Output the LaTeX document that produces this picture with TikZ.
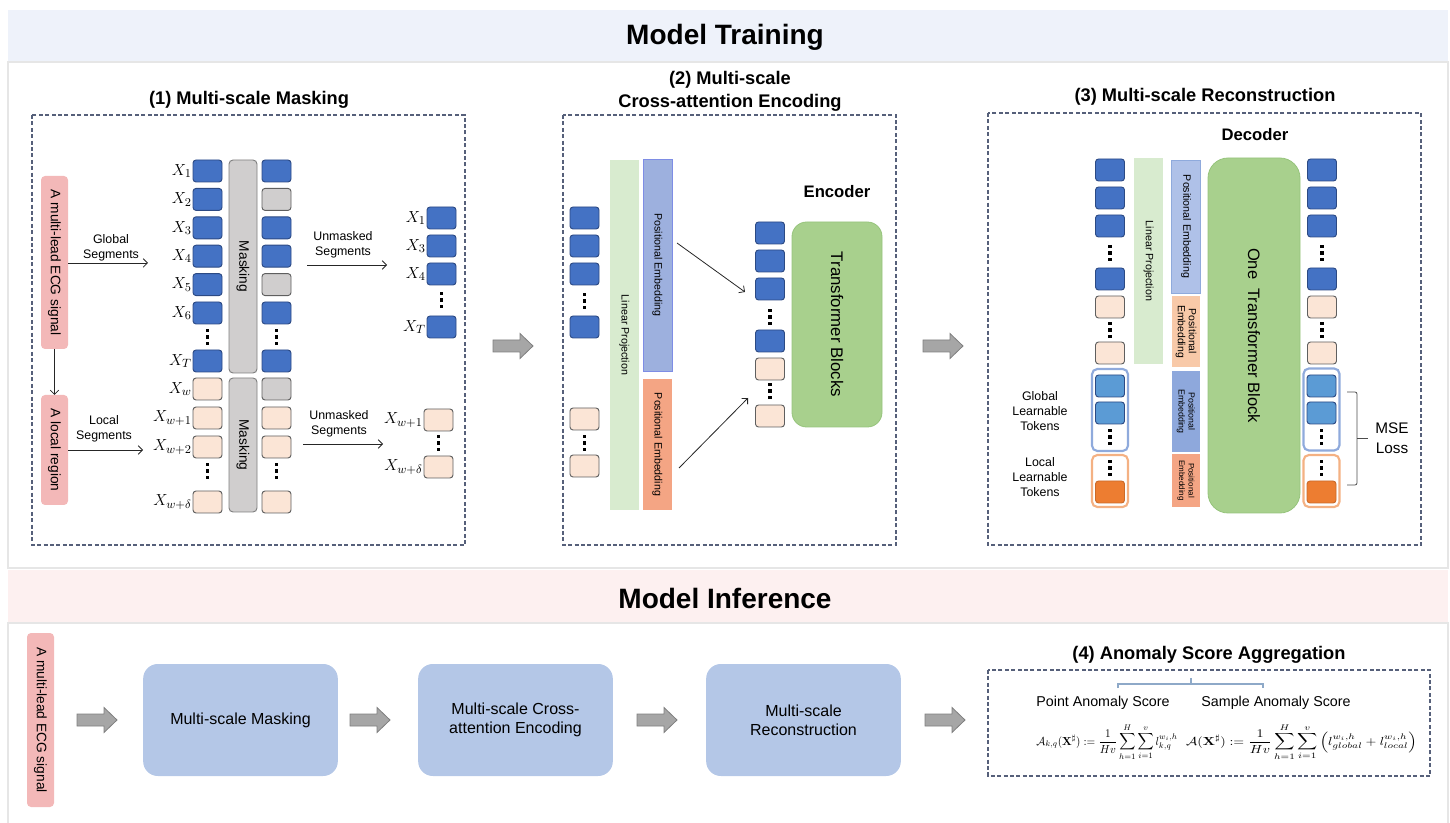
\documentclass[tikz,border=0pt]{standalone}
\usepackage[no-math]{fontspec}
\setmainfont{Liberation Sans}
\usepackage{amsmath,amssymb}
\usepackage{graphicx}
\usetikzlibrary{arrows.meta}
\definecolor{bandblue}{HTML}{EEF2FA}
\definecolor{bandpink}{HTML}{FDF0F0}
\definecolor{framec}{HTML}{E6E6E6}
\definecolor{pinkc}{HTML}{F3B8B8}
\definecolor{tokblue}{HTML}{4472C4}
\definecolor{tokblueline}{HTML}{2C4A84}
\definecolor{peach}{HTML}{FBE5D6}
\definecolor{tokline}{HTML}{5F5F5F}
\definecolor{graytok}{HTML}{D0CECE}
\definecolor{maskline}{HTML}{7F7F7F}
\definecolor{lingreen}{HTML}{D8EBCF}
\definecolor{peblue}{HTML}{9DB0DE}
\definecolor{peblueL}{HTML}{AFC1E8}
\definecolor{peblueM}{HTML}{8EA8DC}
\definecolor{peorange}{HTML}{F4A584}
\definecolor{peorangeL}{HTML}{F8C9A8}
\definecolor{trgreen}{HTML}{A8D08D}
\definecolor{trline}{HTML}{96C47C}
\definecolor{lblue}{HTML}{5B9BD5}
\definecolor{frameblue}{HTML}{8FAADC}
\definecolor{frameorange}{HTML}{F4B183}
\definecolor{orangetok}{HTML}{ED7D31}
\definecolor{boxblue}{HTML}{B4C7E7}
\definecolor{arrgray}{HTML}{A6A6A6}
\definecolor{arrline}{HTML}{7F7F7F}
\definecolor{dashc}{HTML}{56607A}
\definecolor{bracec}{HTML}{8EA9C8}
\newcommand{\fsz}[2]{\fontsize{#1}{#2}\selectfont}
\newcommand{\vd}[2]{\begin{scope}[shift={(#1,#2)}]\foreach \q in {-6.5,0,6.5}{\fill (-1.8,\q-1.8) rectangle (1.8,\q+1.8);}\end{scope}}
\tikzset{
  every node/.style={inner sep=0pt, outer sep=0pt},
  tok/.style={rectangle, rounded corners=2.3pt, minimum width=21.75pt, minimum height=16.5pt, line width=0.7pt},
  tokB/.style={tok, fill=tokblue, draw=tokblueline},
  tokP/.style={tok, fill=peach, draw=tokline},
  tokG/.style={tok, fill=graytok, draw=tokline},
  tokL/.style={tok, fill=lblue, draw=tokblueline},
  tokO/.style={tok, fill=orangetok, draw=orangetok!85!black},
  xl/.style={anchor=east, xshift=-1pt, font=\fsz{12.5}{14}},
  vbar/.style={rectangle, rotate=-90},
  pinkbox/.style={vbar, fill=pinkc, rounded corners=3pt, minimum height=20.25pt, font=\fsz{10.3}{12}},
  maskbar/.style={vbar, fill=graytok, draw=maskline, line width=0.7pt, rounded corners=3pt, minimum height=21pt, font=\fsz{10.3}{12}},
  linbar/.style={vbar, fill=lingreen, minimum height=21.75pt, font=\fsz{8}{9.5}},
  pebar/.style={vbar, minimum height=21.5pt, align=center, font=\fsz{8}{8.2}},
  lab/.style={align=center, font=\fsz{9.3}{11.25}},
  ptitle/.style={align=center, font=\bfseries\fsz{13.7}{17.25}},
  btitle/.style={font=\bfseries\fsz{21}{25}},
  sublab/.style={font=\bfseries\fsz{12.5}{15}},
  arr/.style={draw=black!85, line width=0.6pt, -{Straight Barb[length=3.2pt,width=6.4pt]}},
  dbox/.style={draw=dashc, line width=0.8pt, dash pattern=on 3pt off 1.8pt},
  frameB/.style={rectangle, rounded corners=4pt, draw=frameblue, line width=1.6pt, minimum width=27pt, fill=white},
  frameO/.style={rectangle, rounded corners=4pt, draw=frameorange, line width=1.6pt, minimum width=27pt, fill=white},
  trbox/.style={vbar, fill=trgreen, draw=trline, line width=0.6pt, rounded corners=11pt, font=\fsz{12.2}{14}},
  flowbox/.style={rectangle, rounded corners=11pt, fill=boxblue, minimum width=146pt, minimum height=84pt, align=center, font=\fsz{12}{14.25}},
  bigarr/.pic={\draw[fill=arrgray, draw=arrline, line width=0.6pt] (0,-6) -- (27,-6) -- (27,-12.5) -- (40,0) -- (27,12.5) -- (27,6) -- (0,6) -- cycle;}
}
\begin{document}
\begin{tikzpicture}[x=0.75pt,y=-0.75pt]
\useasboundingbox (0,0) rectangle (1450,823);
% ---------- backgrounds ----------
\fill[bandblue] (8,10) rectangle (1448,62);
\draw[framec, line width=0.8pt] (8,62) rectangle (1448,568);
\fill[bandpink] (8,570) rectangle (1448,623);
\draw[framec, line width=0.8pt] (8,823) -- (8,623) -- (1448,623) -- (1448,823);
\node[btitle] (ttrain) at (725,37) {Model Training};
\node[btitle] (tinfer) at (725,598) {Model Inference};

% ---------- panel 1 ----------
\node[ptitle] (t1) at (249,100) {(1) Multi-scale Masking};
\draw[dbox] (32,115) rectangle (465,545);
\node[pinkbox, minimum width=129.75pt] (ecg) at (54.5,262.5) {A multi-lead ECG signal};
\node[pinkbox, minimum width=82.5pt] (loc) at (54.5,450) {A local region};
\draw[arr] (ecg) -- (loc);
\coordinate (gse) at (148,263);
\draw[arr] (gse -| ecg.north) -- (gse);
\node[lab] (glab) at (111,247.5) {Global\\Segments};
\coordinate (lse) at (143,450);
\draw[arr] (lse -| loc.north) -- (lse);
\node[lab] (llab) at (104,428.5) {Local\\Segments};

\node[maskbar, minimum width=159.75pt] (mk1) at (243,266.5) {Masking};
\node[maskbar, minimum width=100.5pt] (mk2) at (243,445) {Masking};

% column 1
\node[tokB] (a1) at (207.5,171) {};   \node[xl] (la1) at (a1.west) {$X_1$};
\node[tokB] (a2) at (207.5,199.4) {}; \node[xl] (la2) at (a2.west) {$X_2$};
\node[tokB] (a3) at (207.5,227.8) {}; \node[xl] (la3) at (a3.west) {$X_3$};
\node[tokB] (a4) at (207.5,256.2) {}; \node[xl] (la4) at (a4.west) {$X_4$};
\node[tokB] (a5) at (207.5,284.6) {}; \node[xl] (la5) at (a5.west) {$X_5$};
\node[tokB] (a6) at (207.5,313) {};   \node[xl] (la6) at (a6.west) {$X_6$};
\vd{207.5}{337}
\node[tokB] (aT) at (207.5,361) {};   \node[xl] (laT) at (aT.west) {$X_T$};
\node[tokP] (p0) at (207.5,389) {};   \node[xl] (lp0) at (p0.west) {$X_w$};
\node[tokP] (p1) at (207.5,418) {};   \node[xl] (lp1) at (p1.west) {$X_{w+1}$};
\node[tokP] (p2) at (207.5,447) {};   \node[xl] (lp2) at (p2.west) {$X_{w+2}$};
\vd{207.5}{471}
\node[tokP] (pd) at (207.5,502) {};   \node[xl] (lpd) at (pd.west) {$X_{w+\delta}$};

% column 2
\node[tokB] (b1) at (276.5,171) {};
\node[tokG] (b2) at (276.5,199.4) {};
\node[tokB] (b3) at (276.5,227.8) {};
\node[tokB] (b4) at (276.5,256.2) {};
\node[tokG] (b5) at (276.5,284.6) {};
\node[tokB] (b6) at (276.5,313) {};
\vd{276.5}{337}
\node[tokB] (bT) at (276.5,361) {};
\node[tokG] (q0) at (276.5,389) {};
\node[tokP] (q1) at (276.5,418) {};
\node[tokP] (q2) at (276.5,447) {};
\vd{276.5}{471}
\node[tokP] (qd) at (276.5,502) {};

% unmasked
\coordinate (u1s) at (307,265); \coordinate (u1e) at (387,265);
\draw[arr] (u1s) -- (u1e);
\node[lab] (u1l) at (343,244.5) {Unmasked\\Segments};
\coordinate (u2s) at (303,444); \coordinate (u2e) at (383,444);
\draw[arr] (u2s) -- (u2e);
\node[lab] (u2l) at (339,424) {Unmasked\\Segments};

\node[tokB] (c1) at (441.5,218) {}; \node[xl] (lc1) at (c1.west) {$X_1$};
\node[tokB] (c3) at (441.5,246) {}; \node[xl] (lc3) at (c3.west) {$X_3$};
\node[tokB] (c4) at (441.5,274) {}; \node[xl] (lc4) at (c4.west) {$X_4$};
\vd{441.5}{300}
\node[tokB] (cT) at (441.5,327) {}; \node[xl] (lcT) at (cT.west) {$X_T$};
\node[tokP] (r1) at (438.5,420) {}; \node[xl] (lr1) at (r1.west) {$X_{w+1}$};
\vd{438.5}{443}
\node[tokP] (rd) at (438.5,467) {}; \node[xl] (lrd) at (rd.west) {$X_{w+\delta}$};

% big arrows
\pic at (493,346) {bigarr};
\pic at (923,346) {bigarr};

% ---------- panel 2 ----------
\node[ptitle] (t2) at (730,91.5) {(2) Multi-scale\\Cross-attention Encoding};
\draw[dbox] (563,115) rectangle (896,545);
\node[tokB] (e1) at (584.5,218) {};
\node[tokB] (e2) at (584.5,246) {};
\node[tokB] (e3) at (584.5,274) {};
\vd{584.5}{301}
\node[tokB] (e4) at (584.5,327) {};
\node[tokP] (e5) at (584.5,419) {};
\vd{584.5}{443}
\node[tokP] (e6) at (584.5,466) {};
\node[linbar, minimum width=262.5pt] (lp2b) at (624.5,335) {Linear Projection};
\node[pebar, fill=peblue, draw=peblue!80!blue, line width=0.4pt, minimum width=159pt] (pe2a) at (657.5,265) {Positional Embedding};
\node[pebar, fill=peorange, minimum width=98.25pt] (pe2b) at (657.5,444.5) {Positional Embedding};
\node[sublab] (enc) at (837,192) {Encoder};
\node[tokB] (m1) at (770,233) {};
\node[tokB] (m2) at (770,261) {};
\node[tokB] (m3) at (770,289) {};
\vd{770}{317}
\node[tokB] (m4) at (770,341) {};
\node[tokP] (m5) at (770,369) {};
\vd{770}{391}
\node[tokP] (m6) at (770,416) {};
\node[trbox, minimum width=153.75pt, minimum height=67.5pt, font=\fsz{12.6}{14}] (trb) at (837,324.5) {Transformer Blocks};
\coordinate (x1s) at (677,243); \coordinate (x1e) at (745,292);
\draw[arr] (x1s) -- (x1e);
\coordinate (x2s) at (679,468); \coordinate (x2e) at (748,398);
\draw[arr] (x2s) -- (x2e);

% ---------- panel 3 ----------
\node[ptitle] (t3) at (1205,97) {(3) Multi-scale Reconstruction};
\draw[dbox] (988,113) rectangle (1421,545);
\node[sublab] (dec) at (1255,135) {Decoder};
% left column
\node[tokB] (d1) at (1110,170) {};
\node[tokB] (d2) at (1110,198) {};
\node[tokB] (d3) at (1110,226) {};
\vd{1110}{253}
\node[tokB] (d4) at (1110,279) {};
\node[tokP] (d5) at (1110,307) {};
\vd{1110}{330}
\node[tokP] (d6) at (1110,353) {};
\node[frameB, minimum height=61.5pt] (gfl) at (1110,410) {};
\node[tokL] (g1) at (1110,386) {};
\node[tokL] (g2) at (1110,413) {};
\vd{1110}{437}
\node[frameO, minimum height=39pt] (lfl) at (1110,481) {};
\vd{1110}{468}
\node[tokO] (o1) at (1110,492) {};
\node[lab] (glt) at (1040,411.5) {Global\\Learnable\\Tokens};
\node[lab] (llt) at (1040,477) {Local\\Learnable\\Tokens};
\node[linbar, minimum width=154.5pt] (lp3) at (1148.5,261) {Linear Projection};
\node[pebar, fill=peblueL, draw=frameblue, line width=0.4pt, minimum width=99.75pt] (pe3a) at (1186,226.5) {Positional Embedding};
\node[pebar, fill=peorangeL, minimum width=53.25pt, font=\fsz{7.8}{8.2}] (pe3b) at (1186,331.5) {Positional\\Embedding};
\node[pebar, fill=peblueM, minimum width=60.75pt, font=\fsz{6.6}{7.5}] (pe3c) at (1186,411.5) {Positional\\Embedding};
\node[pebar, fill=peorange, minimum width=39.75pt, font=\fsz{6}{7.2}] (pe3d) at (1186,480.5) {Positional\\Embedding};
\node[trbox, rounded corners=15pt, minimum width=266.25pt, minimum height=69pt, font=\fsz{12.4}{14}] (otb) at (1254,335.5) {One\ \ Transformer Block};
% right column
\node[tokB] (h1) at (1322,170) {};
\node[tokB] (h2) at (1322,198) {};
\node[tokB] (h3) at (1322,226) {};
\vd{1322}{253}
\node[tokB] (h4) at (1322,279) {};
\node[tokP] (h5) at (1322,307) {};
\vd{1322}{330}
\node[tokP] (h6) at (1322,353) {};
\node[frameB, minimum height=61.5pt] (gfr) at (1321.5,409.5) {};
\node[tokL] (k1) at (1321.5,386) {};
\node[tokL] (k2) at (1321.5,413) {};
\vd{1321.5}{437}
\node[frameO, minimum height=39pt] (lfr) at (1321.5,481) {};
\vd{1321.5}{468}
\node[tokO] (o2) at (1321.5,492) {};
\coordinate (brt) at (1347,392); \coordinate (brb) at (1347,485); \coordinate (brm) at (1368,438);
\draw[black!70, line width=0.6pt, rounded corners=1.5pt] (brt) -- (1357,392) -- (1357,485) -- (brb);
\draw[black!70, line width=0.6pt] (1357,438) -- (brm);
\node[align=center, font=\fsz{11.5}{15}] (mse) at (1392,438.5) {MSE\\Loss};

% ---------- inference ----------
\node[pinkbox, minimum width=130.5pt] (ecg2) at (40.5,720) {A multi-lead ECG signal};
\pic at (77,720) {bigarr};
\node[flowbox] (f1b) at (240.5,720) {Multi-scale Masking};
\pic at (350,720) {bigarr};
\node[flowbox] (f2b) at (515.5,720) {Multi-scale Cross-\\attention Encoding};
\pic at (637,720) {bigarr};
\node[flowbox] (f3b) at (803.5,720) {Multi-scale\\Reconstruction};
\pic at (925,720) {bigarr};

% ---------- panel 4 ----------
\node[ptitle] (t4) at (1209,655) {(4) Anomaly Score Aggregation};
\draw[dbox] (988,670) rectangle (1430,776);
\coordinate (bl) at (1118,688); \coordinate (br) at (1263,688); \coordinate (bm) at (1191,678);
\draw[bracec, line width=0.8pt] (bl) -- (1118,684) -- (1263,684) -- (br);
\draw[bracec, line width=0.8pt] (1191,684) -- (bm);
\node[font=\fsz{10.7}{12}] (pas) at (1103,703) {Point Anomaly Score};
\node[font=\fsz{10.7}{12}] (sas) at (1276,703) {Sample Anomaly Score};
\node (fm1) at (1107,742) {\resizebox{106pt}{16pt}{$\displaystyle \mathcal{A}_{k,q}(\mathbf{X}^{\sharp}) \mathrel{:=} \frac{1}{Hv}\sum_{h=1}^{H}\sum_{i=1}^{v} l_{k,q}^{w_i,h}$}};
\node (fm2) at (1301.5,742) {\resizebox{173pt}{16pt}{$\displaystyle \mathcal{A}(\mathbf{X}^{\sharp}) := \frac{1}{Hv}\sum_{h=1}^{H}\sum_{i=1}^{v}\left(l_{global}^{w_i,h} + l_{local}^{w_i,h}\right)$}};
\end{tikzpicture}
\end{document}
